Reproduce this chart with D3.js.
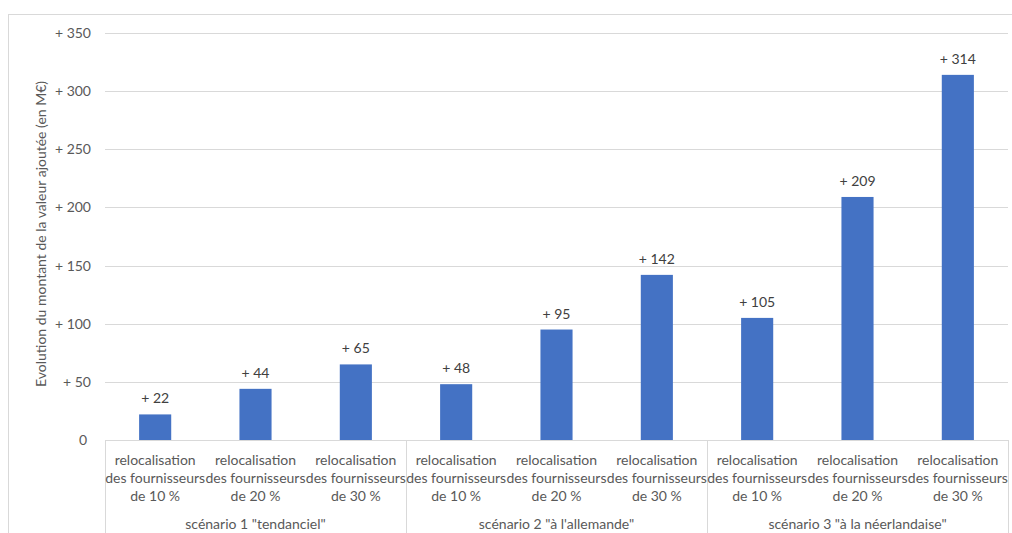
<!DOCTYPE html>
<html>
<head>
<meta charset="utf-8">
<script src="https://cdn.jsdelivr.net/npm/d3@7"></script>
<style>
html,body{margin:0;padding:0;background:#fff;}
svg{display:block;font-family:Lato,"Open Sans",sans-serif;}
</style>
</head>
<body>
<svg id="c" width="1012" height="533"></svg>
<script>
const groups = ['scénario 1 "tendanciel"', 'scénario 2 "à l\'allemande"', 'scénario 3 "à la néerlandaise"'];
const subLabels = ["de 10 %", "de 20 %", "de 30 %"];
const values = [22, 44, 65, 48, 95, 142, 105, 209, 314];
const valueLabels = ["+ 22", "+ 44", "+ 65", "+ 48", "+ 95", "+ 142", "+ 105", "+ 209", "+ 314"];
const yTicks = [0, 50, 100, 150, 200, 250, 300, 350];
const yTickLabels = ["0", "+ 50", "+ 100", "+ 150", "+ 200", "+ 250", "+ 300", "+ 350"];
const yTitle = "Evolution du montant de la valeur ajoutée (en M€)";

const svg = d3.select("#c");
const L = 105, R = 1008, T = 33, B = 440;
const FS = 14;

// outer frame
svg.append("rect").attr("x", 8.5).attr("y", 14.5).attr("width", 1010).attr("height", 530)
  .attr("fill", "none").attr("stroke", "#d9d9d9");

const cats = values.map((v, i) => i);
const x = d3.scaleBand().domain(cats).range([L, R]).paddingInner(0.68).paddingOuter(0.34);
const xs = d3.scaleBand().domain(cats).range([L, R]).padding(0);
const y = d3.scaleLinear().domain([0, 350]).range([B, T]);

// gridlines
svg.append("g").selectAll("line").data(yTicks).join("line")
  .attr("x1", L).attr("x2", R)
  .attr("y1", d => Math.round(y(d)) + 0.5).attr("y2", d => Math.round(y(d)) + 0.5)
  .attr("stroke", "#d9d9d9").attr("stroke-width", 1);

// y tick labels
svg.append("g").selectAll("text").data(yTicks).join("text")
  .attr("x", d => d === 0 ? 87 : 91)
  .attr("y", d => y(d) + 5)
  .attr("text-anchor", "end").attr("font-size", FS).attr("fill", "#595959")
  .text((d, i) => yTickLabels[i]);

// y title
svg.append("text")
  .attr("transform", `translate(46,234) rotate(-90)`)
  .attr("text-anchor", "middle").attr("font-size", FS).attr("fill", "#595959")
  .text(yTitle);

// bars
svg.append("g").selectAll("rect").data(values).join("rect")
  .attr("x", (d, i) => x(i)).attr("width", x.bandwidth())
  .attr("y", d => y(d)).attr("height", d => y(0) - y(d))
  .attr("fill", "#4472c4");

// value labels
svg.append("g").selectAll("text").data(values).join("text")
  .attr("x", (d, i) => x(i) + x.bandwidth() / 2)
  .attr("y", d => y(d) - 11)
  .attr("text-anchor", "middle").attr("font-size", FS).attr("fill", "#404040")
  .text((d, i) => valueLabels[i]);

// category axis lines
const sepIdx = [0, 3, 6, 9];
svg.append("g").selectAll("line").data(sepIdx).join("line")
  .attr("x1", d => Math.round(L + d * xs.step()) + 0.5)
  .attr("x2", d => Math.round(L + d * xs.step()) + 0.5)
  .attr("y1", B).attr("y2", 533)
  .attr("stroke", "#d9d9d9");

// category labels
const cl = svg.append("g").selectAll("text").data(cats).join("text")
  .attr("text-anchor", "middle").attr("font-size", FS).attr("fill", "#595959");
cl.append("tspan").attr("x", d => xs(d) + xs.step() / 2).attr("y", 465).text("relocalisation");
cl.append("tspan").attr("x", d => xs(d) + xs.step() / 2).attr("y", 483).text("des fournisseurs");
cl.append("tspan").attr("x", d => xs(d) + xs.step() / 2).attr("y", 501).text(d => subLabels[d % 3]);

// group labels
svg.append("g").selectAll("text").data(groups).join("text")
  .attr("x", (d, i) => L + (i * 3 + 1.5) * xs.step())
  .attr("y", 529)
  .attr("text-anchor", "middle").attr("font-size", FS).attr("fill", "#595959")
  .text(d => d);
</script>
</body>
</html>
